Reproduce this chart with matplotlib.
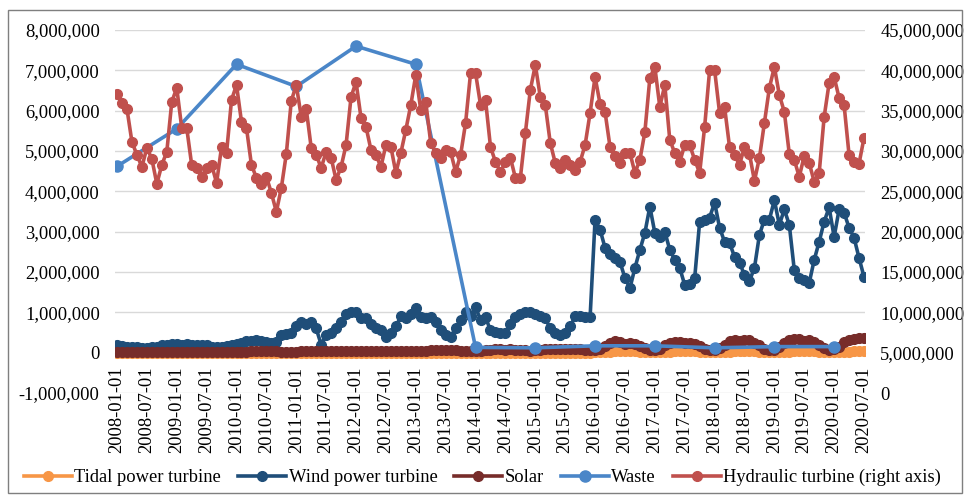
import matplotlib
matplotlib.use("Agg")
import matplotlib.pyplot as plt
import matplotlib.patches as mpatches
from matplotlib.ticker import FuncFormatter
import numpy as np
import pandas as pd

# monthly dates 2008-01 .. 2020-07
months = pd.date_range("2008-01-01", "2020-07-01", freq="MS").strftime("%Y-%m-%d").tolist()

# values in millions
tidal = [0.00] * 96 + [
         0.01, 0.01, 0.02, 0.02, 0.03, 0.03, 0.03, 0.03, 0.03, 0.02, 0.02, 0.01,
         0.01, 0.01, 0.02, 0.02, 0.03, 0.03, 0.03, 0.03, 0.03, 0.02, 0.02, 0.01,
         0.01, 0.01, 0.02, 0.02, 0.03, 0.03, 0.03, 0.03, 0.03, 0.02, 0.02, 0.01,
         0.01, 0.01, 0.02, 0.02, 0.03, 0.03, 0.03, 0.03, 0.03, 0.02, 0.02, 0.01,
         0.01, 0.01, 0.02, 0.02, 0.03, 0.03, 0.03]

wind = [0.20, 0.17, 0.15, 0.14, 0.13, 0.12, 0.12, 0.13, 0.15, 0.18, 0.20, 0.21,
        0.22, 0.20, 0.22, 0.20, 0.18, 0.19, 0.18, 0.15, 0.13, 0.14, 0.16, 0.18,
        0.21, 0.24, 0.28, 0.30, 0.31, 0.28, 0.27, 0.25, 0.27, 0.45, 0.46, 0.48,
        0.65, 0.75, 0.70, 0.75, 0.60, 0.20, 0.45, 0.50, 0.60, 0.75, 0.95, 1.00,
        1.02, 0.85, 0.85, 0.72, 0.60, 0.55, 0.38, 0.50, 0.65, 0.90, 0.85, 0.95,
        1.10, 0.88, 0.85, 0.88, 0.75, 0.55, 0.45, 0.40, 0.60, 0.80, 1.00, 0.90,
        1.12, 0.82, 0.88, 0.55, 0.52, 0.50, 0.50, 0.72, 0.88, 0.95, 1.00, 1.02,
        0.95, 0.90, 0.85, 0.60, 0.50, 0.45, 0.50, 0.65, 0.90, 0.90, 0.88, 0.88,
        3.30, 3.05, 2.60, 2.45, 2.35, 2.25, 1.85, 1.60, 2.10, 2.55, 2.97, 3.62,
        2.97, 2.87, 3.00, 2.55, 2.30, 2.10, 1.68, 1.70, 1.85, 3.25, 3.30, 3.35,
        3.72, 3.10, 2.75, 2.72, 2.38, 2.23, 1.93, 1.78, 2.10, 2.92, 3.30, 3.30,
        3.78, 3.17, 3.55, 3.17, 2.05, 1.85, 1.80, 1.73, 2.30, 2.75, 3.25, 3.60,
        2.87, 3.55, 3.47, 3.10, 2.85, 2.35, 1.88]

solar = [0.01, 0.01, 0.01, 0.01, 0.02, 0.02, 0.02, 0.02, 0.01, 0.01, 0.01, 0.01,
         0.01, 0.02, 0.02, 0.02, 0.02, 0.02, 0.02, 0.02, 0.02, 0.02, 0.01, 0.01,
         0.02, 0.02, 0.02, 0.03, 0.03, 0.03, 0.03, 0.03, 0.03, 0.02, 0.02, 0.02,
         0.02, 0.03, 0.03, 0.04, 0.04, 0.04, 0.04, 0.04, 0.03, 0.03, 0.03, 0.03,
         0.03, 0.03, 0.04, 0.05, 0.05, 0.05, 0.05, 0.05, 0.05, 0.04, 0.04, 0.03,
         0.04, 0.04, 0.05, 0.06, 0.06, 0.06, 0.06, 0.06, 0.06, 0.05, 0.05, 0.04,
         0.05, 0.05, 0.06, 0.07, 0.08, 0.08, 0.07, 0.08, 0.07, 0.06, 0.06, 0.05,
         0.06, 0.07, 0.08, 0.09, 0.10, 0.10, 0.09, 0.10, 0.09, 0.08, 0.07, 0.07,
         0.07, 0.10, 0.17, 0.24, 0.28, 0.26, 0.22, 0.24, 0.22, 0.17, 0.11, 0.07,
         0.06, 0.10, 0.18, 0.24, 0.27, 0.26, 0.24, 0.25, 0.22, 0.16, 0.10, 0.06,
         0.06, 0.11, 0.20, 0.28, 0.32, 0.30, 0.31, 0.32, 0.25, 0.18, 0.10, 0.06,
         0.07, 0.13, 0.24, 0.32, 0.35, 0.33, 0.30, 0.31, 0.26, 0.19, 0.11, 0.06,
         0.08, 0.15, 0.26, 0.32, 0.35, 0.36, 0.37]

# waste only reported once a year (January)
waste_months = [f"{y}-01-01" for y in range(2008, 2021)]
waste = [4.62, 5.55, 7.15, 6.60, 7.60, 7.15, 0.13, 0.12, 0.17, 0.17, 0.12, 0.15, 0.15]

hydraulic = [37.07, 35.96, 35.22, 31.13, 29.52, 28.03, 30.39, 29.02, 25.93, 28.28, 29.89, 36.08,
             37.82, 32.86, 32.86, 28.28, 27.91, 26.80, 27.91, 28.28, 26.05, 30.51, 29.77, 36.33,
             38.19, 33.61, 32.86, 28.28, 26.67, 25.95, 26.80, 24.81, 22.46, 25.43, 29.64, 36.21,
             38.19, 34.23, 35.22, 30.39, 29.52, 27.91, 29.89, 29.15, 26.42, 28.03, 30.76, 36.70,
             38.56, 34.10, 32.99, 30.14, 29.52, 28.03, 30.76, 30.51, 27.29, 29.77, 32.62, 35.71,
             39.43, 35.09, 36.08, 31.01, 29.77, 29.15, 30.14, 29.89, 27.41, 29.52, 33.48, 39.67,
             39.67, 35.71, 36.33, 30.51, 28.65, 27.41, 28.65, 29.15, 26.67, 26.67, 32.24, 37.57,
             40.67, 36.70, 35.71, 31.01, 28.53, 27.91, 28.90, 28.28, 27.66, 28.65, 30.76, 34.72,
             39.18, 35.84, 34.85, 30.51, 29.40, 28.53, 29.77, 29.77, 27.29, 28.90, 32.37, 39.06,
             40.42, 35.46, 38.19, 31.38, 29.77, 28.65, 30.76, 30.76, 28.90, 27.29, 32.99, 40.05,
             40.05, 34.72, 35.46, 30.51, 29.52, 28.28, 30.51, 29.64, 26.30, 29.15, 33.48, 37.82,
             40.42, 36.95, 34.85, 29.64, 28.90, 26.80, 29.40, 28.53, 26.18, 27.29, 34.23, 38.44,
             39.18, 36.58, 35.71, 29.52, 28.65, 28.41, 31.63]

tick_labels = months[::6]

plt.rcParams['font.family'] = ['Liberation Serif', 'DejaVu Serif']
plt.rcParams['font.size'] = 13.3

c_tidal = '#F79646'
c_wind = '#1F4E79'
c_solar = '#772C2A'
c_waste = '#4A86C8'
c_hydro = '#C0504D'

fig = plt.figure(figsize=(9.65, 4.95), dpi=100)
ax = fig.add_axes([115 / 965, 1 - 393 / 495, 750 / 965, 363 / 495])
ax2 = ax.twinx()

# category axis crosses the value axis at 0 (set before tick labels)
for s in ['top', 'left', 'right']:
    ax.spines[s].set_visible(False)
for s in ['top', 'left', 'right', 'bottom']:
    ax2.spines[s].set_visible(False)
ax.spines['bottom'].set_position(('data', 0))
ax.spines['bottom'].set_color('#BFBFBF')
ax.spines['bottom'].set_zorder(1)

x = np.arange(len(months))
xw = [months.index(m) for m in waste_months]
M = 1e6
style = dict(linewidth=2.6, marker='o', markersize=7)

l1, = ax.plot(x, np.array(tidal) * M, color=c_tidal, label='Tidal power turbine', zorder=3, **style)
l2, = ax.plot(x, np.array(wind) * M, color=c_wind, label='Wind power turbine', zorder=4, **style)
l3, = ax.plot(x, np.array(solar) * M, color=c_solar, label='Solar', zorder=5, **style)
l4, = ax.plot(xw, np.array(waste) * M, color=c_waste, label='Waste', zorder=6,
              linewidth=2.6, marker='o', markersize=8)
l5, = ax2.plot(x, np.array(hydraulic) * M, color=c_hydro, label='Hydraulic turbine (right axis)', **style)

ax.set_xlim(-0.4, 150.2)
ax.set_ylim(-1e6, 8e6)
ax.set_yticks(np.arange(-1e6, 8.01e6, 1e6))
ax2.set_ylim(0, 45e6)
ax2.set_yticks(np.arange(0, 45.01e6, 5e6))

fmt = FuncFormatter(lambda v, p: f"{v:,.0f}")
ax.yaxis.set_major_formatter(fmt)
ax2.yaxis.set_major_formatter(fmt)

ax.set_xticks(x[::6])
ax.set_xticklabels(tick_labels)
ax.tick_params(axis='x', length=0, pad=10, labelrotation=90)
ax.tick_params(axis='y', length=0, pad=11)
ax2.tick_params(axis='y', length=0, pad=11)

ax.yaxis.grid(True, color='#D9D9D9', linewidth=1)
ax.set_axisbelow(True)

fig.legend(handles=[l1, l2, l3, l4, l5], loc='center', bbox_to_anchor=(0.5, 0.035),
           ncol=5, frameon=False, handlelength=2.6, handletextpad=0.15, columnspacing=0.9)

# chart border
fig.patches.append(mpatches.Rectangle((8 / 965, 2 / 495), 954 / 965, 483 / 495,
                                      transform=fig.transFigure, fill=False,
                                      edgecolor='#7F7F7F', linewidth=1))

fig.savefig('out.png', dpi=100)
